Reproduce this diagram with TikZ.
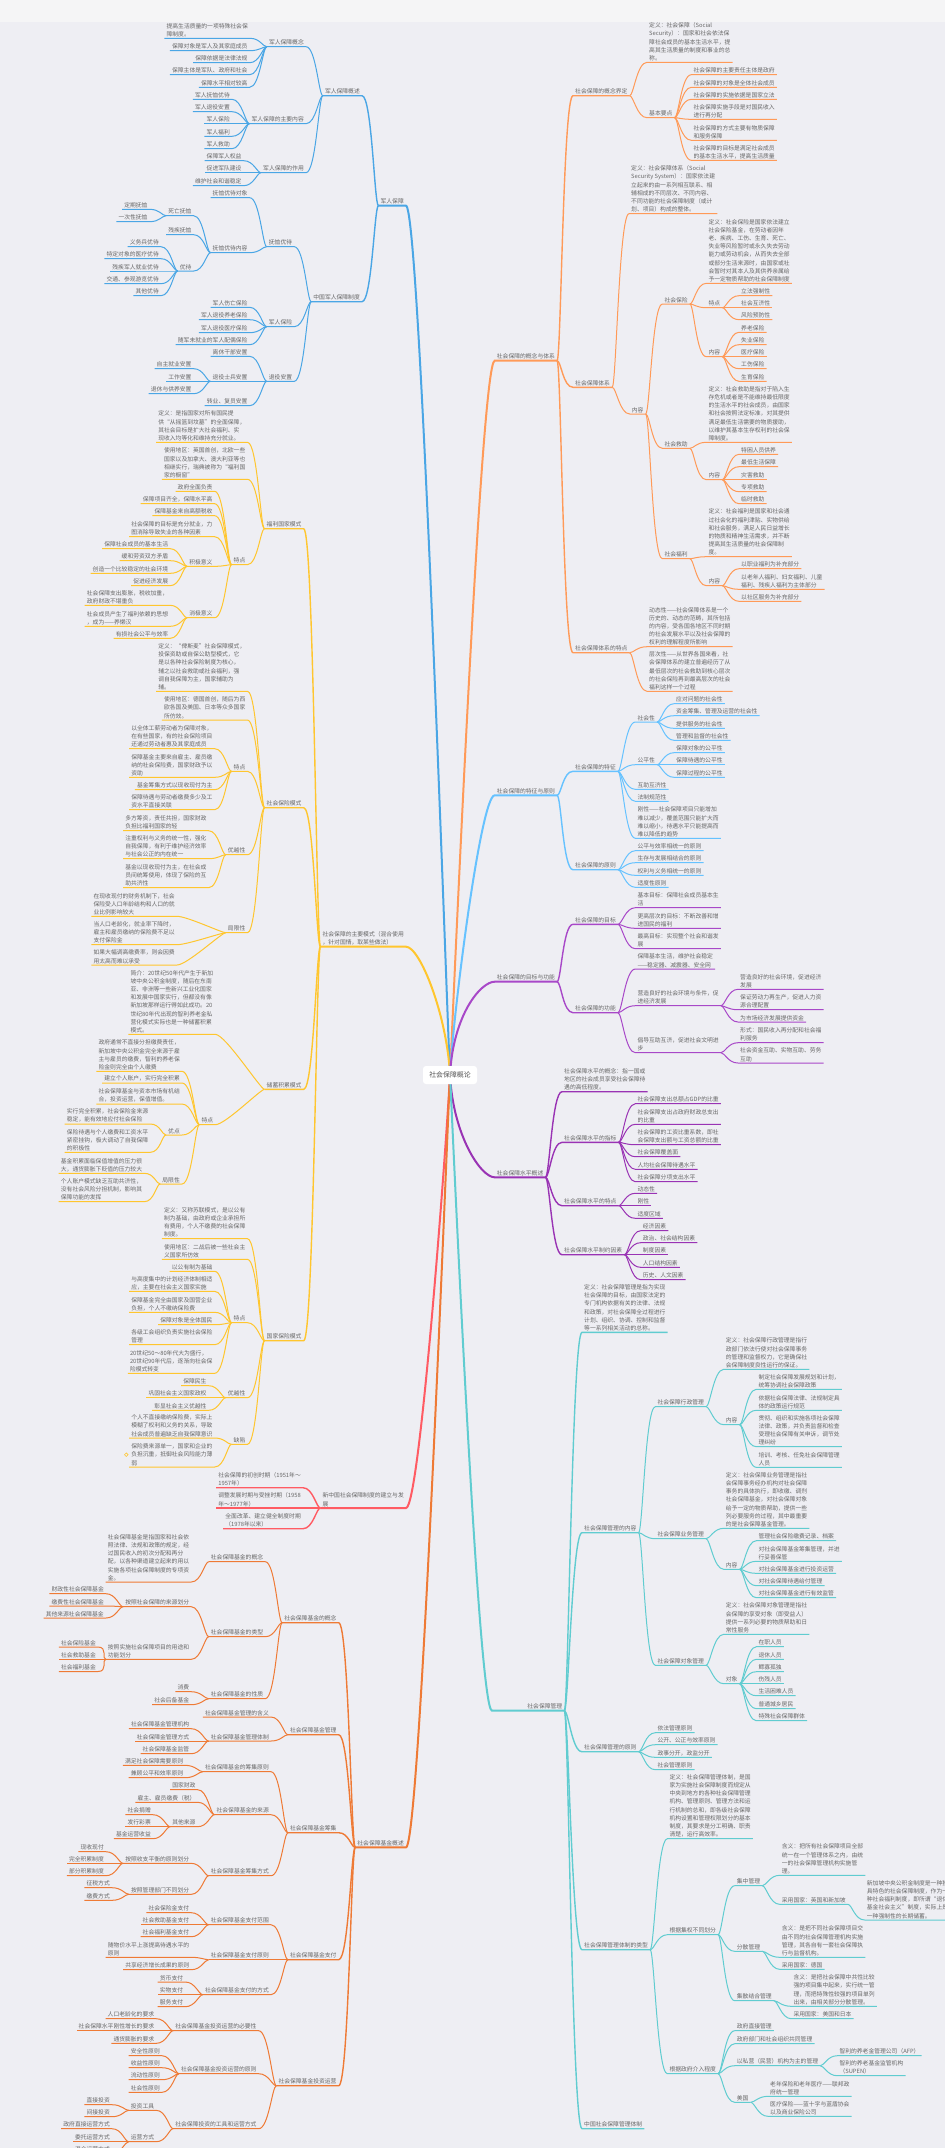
\documentclass[tikz,border=0pt]{standalone}
\usepackage{fontspec}
\setmainfont{Noto Sans CJK SC}
\usetikzlibrary{backgrounds}
\definecolor{canvas}{RGB}{238,238,243}
\definecolor{topbar}{RGB}{245,245,246}
\definecolor{txt}{RGB}{102,102,102}
\definecolor{jblue}{RGB}{74,166,229}
\definecolor{myellow}{RGB}{255,198,46}
\definecolor{hred}{RGB}{255,91,99}
\definecolor{forange}{RGB}{238,122,53}
\definecolor{corange}{RGB}{255,154,88}
\definecolor{tblue}{RGB}{102,194,255}
\definecolor{gpurple}{RGB}{168,72,200}
\definecolor{lpurple}{RGB}{153,51,180}
\definecolor{mteal}{RGB}{96,204,208}
\begin{document}
\begin{tikzpicture}[x=1pt,y=-1pt,font=\fontsize{5.8}{8.2}\selectfont,
  ln/.style={anchor=south east,inner xsep=2pt,inner ysep=1.2pt,align=left,text=txt},
  rn/.style={anchor=south west,inner xsep=2pt,inner ysep=1.2pt,align=left,text=txt},
  lto/.style={to path={.. controls +(-4,0) and +(10,0) .. (\tikztotarget.south east) -- (\tikztotarget.south west)}},
  rto/.style={to path={.. controls +(4,0) and +(-10,0) .. (\tikztotarget.south west) -- (\tikztotarget.south east)}},
  cl/.style={to path={.. controls +(-3,#1) and +(14,0) .. (\tikztotarget.south east) -- (\tikztotarget.south west)}},
  cr/.style={to path={.. controls +(3,#1) and +(-14,0) .. (\tikztotarget.south west) -- (\tikztotarget.south east)}},
  lv0/.style={line width=2pt},lv1/.style={line width=1.4pt},lv2/.style={line width=1pt}]
\useasboundingbox (0,0) rectangle (945,2148);
\begin{scope}[on background layer]
\fill[canvas] (0,0) rectangle (945,2148);
\end{scope}

\node[fill=white,rounded corners=3pt,minimum width=54pt,minimum height=18pt,text=txt!80!black,font=\fontsize{6.9}{8}\selectfont] (ctr) at (450,1075) {社会保障概论};

\node[ln] (a) at (406,205.7) {军人保障};
\node[ln] (a1) at (362,95.7) {军人保障概述};
\node[ln] (a2) at (362,301.7) {中国军人保障制度};
\node[ln] (a11) at (306,46.7) {军人保障概念};
\node[ln] (a12) at (306,123.7) {军人保障的主要内容};
\node[ln] (a13) at (306,172.7) {军人保障的作用};
\node[ln] (a111) at (250,38.3) {提高生活质量的一项特殊社会保\\障制度。};
\node[ln] (a112) at (249.7,50.7) {保障对象是军人及其家庭成员};
\node[ln] (a113) at (249.7,62.7) {保障依据是法律法规};
\node[ln] (a114) at (249.7,74.7) {保障主体是军队、政府和社会};
\node[ln] (a115) at (249.7,87.3) {保障水平相对较高};
\node[ln] (a121) at (232,99.3) {军人抚恤优待};
\node[ln] (a122) at (232,111.7) {军人退役安置};
\node[ln] (a123) at (232,123.7) {军人保险};
\node[ln] (a124) at (232,136.3) {军人福利};
\node[ln] (a125) at (232,148.7) {军人救助};
\node[ln] (a131) at (243.7,160.7) {保障军人权益};
\node[ln] (a132) at (243.7,172.7) {促进军队建设};
\node[ln] (a133) at (243.7,185.7) {维护社会和谐稳定};
\node[ln] (a21) at (294.3,246.7) {抚恤优待};
\node[ln] (a22) at (294.3,326.7) {军人保险};
\node[ln] (a23) at (294.3,381.3) {退役安置};
\node[ln] (a211) at (249.7,197.7) {抚恤优待对象};
\node[ln] (a212) at (249.7,252.7) {抚恤优待内容};
\node[ln] (a2121) at (193.7,215.7) {死亡抚恤};
\node[ln] (a2122) at (193.7,234.7) {残疾抚恤};
\node[ln] (a2123) at (193.7,271) {优待};
\node[ln] (a21211) at (149.7,209.3) {定期抚恤};
\node[ln] (a21212) at (149.7,221.7) {一次性抚恤};
\node[ln] (a21231) at (161,246.7) {义务兵优待};
\node[ln] (a21232) at (161,258.7) {特定对象的医疗优待};
\node[ln] (a21233) at (161,271) {残疾军人就业优待};
\node[ln] (a21234) at (161,283.7) {交通、参观游览优待};
\node[ln] (a21235) at (161,295.7) {其他优待};
\node[ln] (a221) at (249.7,307.3) {军人伤亡保险};
\node[ln] (a222) at (249.7,319.7) {军人退役养老保险};
\node[ln] (a223) at (249.7,332.7) {军人退役医疗保险};
\node[ln] (a224) at (249.7,344.7) {随军未就业的军人配偶保险};
\node[ln] (a231) at (249.7,356.3) {离休干部安置};
\node[ln] (a232) at (249.7,381.3) {退役士兵安置};
\node[ln] (a233) at (249.7,405.7) {转业、复员安置};
\node[ln] (a2321) at (193.7,368.7) {自主就业安置};
\node[ln] (a2322) at (193.7,381.3) {工作安置};
\node[ln] (a2323) at (193.7,393.7) {退休与供养安置};

\node[ln] (b) at (406,946.7) {社会保障的主要模式（混合使用\\，针对国情，取某些做法）};
\node[ln] (b1) at (303.7,528.7) {福利国家模式};
\node[ln] (b2) at (303.7,807.7) {社会保险模式};
\node[ln] (b3) at (303.7,1089.3) {储蓄积累模式};
\node[ln] (b4) at (303.7,1340.7) {国家保险模式};
\node[ln] (b11) at (247.5,442.3) {定义：是指国家对所有国民提\\供“从摇篮到坟墓”的全面保障，\\其社会目标是扩大社会福利、实\\现收入均等化和维持充分就业。};
\node[ln] (b12) at (247.5,479.3) {使用地区：英国首创，北欧一些\\国家以及加拿大、澳大利亚等也\\相继实行，瑞典被称为“福利国\\家的橱窗”};
\node[ln] (b13) at (247.5,564.7) {特点};
\node[ln] (b131) at (214.7,491.3) {政府全面负责};
\node[ln] (b132) at (214.7,503.7) {保障项目齐全，保障水平高};
\node[ln] (b133) at (214.7,515.7) {保障基金来自高额税收};
\node[ln] (b134) at (214.7,536.7) {社会保障的目标是充分就业，力\\图消除导致失业的各种因素};
\node[ln] (b135) at (214.7,566.3) {积极意义};
\node[ln] (b136) at (214.7,617.7) {消极意义};
\node[ln] (b1351) at (170.3,548.7) {保障社会成员的基本生活};
\node[ln] (b1352) at (170.3,560.7) {缓和劳资双方矛盾};
\node[ln] (b1353) at (170.3,573.3) {创造一个比较稳定的社会环境};
\node[ln] (b1354) at (170.3,585.7) {促进经济发展};
\node[ln] (b1361) at (170.3,605.3) {社会保障支出膨胀，税收加重，\\政府财政不堪重负};
\node[ln] (b1362) at (170.3,626.3) {社会成员产生了福利依赖的思想\\，成为——养懒汉};
\node[ln] (b1363) at (170.3,638.3) {有损社会公平与效率};
\node[ln] (b21) at (247.5,691.3) {定义：“俾斯麦”社会保障模式，\\投保资助或自保公助型模式，它\\是以各种社会保险制度为核心，\\辅之以社会救助或社会福利，强\\调自我保障为主，国家辅助为\\辅。};
\node[ln] (b22) at (247.5,720) {使用地区：德国首创，随后为西\\欧各国及美国、日本等众多国家\\所仿效。};
\node[ln] (b23) at (247.5,771.3) {特点};
\node[ln] (b231) at (214.7,748.7) {以全体工薪劳动者为保障对象，\\在有些国家，有的社会保险项目\\还通过劳动者惠及其家庭成员};
\node[ln] (b232) at (214.7,777.3) {保障基金主要来自雇主、雇员缴\\纳的社会保险费，国家财政予以\\资助};
\node[ln] (b233) at (214.7,789.7) {基金筹集方式以现收现付为主};
\node[ln] (b234) at (214.7,809.7) {保障待遇与劳动者缴费多少及工\\资水平直接关联};
\node[ln] (b24) at (247.5,854.7) {优越性};
\node[ln] (b241) at (208.7,830.7) {多方筹资，责任共担，国家财政\\负担比福利国家的轻};
\node[ln] (b242) at (208.7,858.7) {注重权利与义务的统一性，强化\\自我保障，有利于维护经济效率\\与社会公正的内在统一};
\node[ln] (b243) at (208.7,887.7) {基金以现收现付为主，在社会成\\员间统筹使用，体现了保险的互\\助共济性};
\node[ln] (b25) at (247.5,932.7) {局限性};
\node[ln] (b251) at (177,916.3) {在现收现付的财务机制下，社会\\保险受人口年龄结构和人口的就\\业比例影响较大};
\node[ln] (b252) at (177,944.7) {当人口老龄化，就业率下降时，\\雇主和雇员缴纳的保险费不足以\\支付保险金};
\node[ln] (b253) at (177,965) {如果大幅调高缴费率，则会因费\\用太高而难以承受};
\node[ln] (b31) at (215.3,1034.3) {简介：20世纪50年代产生于新加\\坡中央公积金制度，随后在东南\\亚、非洲等一些新兴工业化国家\\和发展中国家实行，但都没有像\\新加坡那样运行得如此成功。20\\世纪80年代出现的智利养老金私\\营化模式实际也是一种储蓄积累\\模式。};
\node[ln] (b32) at (215.3,1124.7) {特点};
\node[ln] (b321) at (182,1071.3) {政府通常不直接分担缴费责任，\\新加坡中央公积金完全来源于雇\\主与雇员的缴费，智利的养老保\\险金则完全由个人缴费};
\node[ln] (b322) at (182,1083) {建立个人账户，实行完全积累};
\node[ln] (b323) at (182,1104) {社会保障基金与资本市场有机结\\合，投资运营，保值增值。};
\node[ln] (b324) at (182,1135) {优点};
\node[ln] (b325) at (182,1184) {局限性};
\node[ln] (b3241) at (150.3,1124) {实行完全积累，社会保险金来源\\稳定，能有效地应付社会保险};
\node[ln] (b3242) at (150.3,1152.3) {保险待遇与个人缴费和工资水平\\紧密挂钩，极大调动了自我保障\\的积极性};
\node[ln] (b3251) at (144.3,1173.3) {基金积累面临保值增值的压力很\\大，通货膨胀下贬值的压力较大};
\node[ln] (b3252) at (144.3,1201.7) {个人账户模式缺乏互助共济性，\\没有社会风险分担机制，影响其\\保障功能的发挥};
\node[ln] (b41) at (247.5,1238.7) {定义：又称苏联模式，是以公有\\制为基础，由政府或企业承担所\\有费用，个人不缴费的社会保障\\制度。};
\node[ln] (b42) at (247.5,1259.3) {使用地区：二战后被一些社会主\\义国家所仿效};
\node[ln] (b43) at (247.5,1322.7) {特点};
\node[ln] (b431) at (214.7,1271.3) {以公有制为基础};
\node[ln] (b432) at (214.7,1291.3) {与高度集中的计划经济体制相适\\应，主要在社会主义国家实施};
\node[ln] (b433) at (214.7,1312.3) {保障基金完全由国家及国营企业\\负担，个人不缴纳保险费};
\node[ln] (b434) at (214.7,1324.7) {保障对象是全体国民};
\node[ln] (b435) at (214.7,1344.7) {各级工会组织负责实施社会保险\\管理};
\node[ln] (b436) at (214.7,1373.3) {20世纪50～80年代大为盛行，\\20世纪90年代后，逐渐向社会保\\险模式转变};
\node[ln] (b44) at (247.5,1397.7) {优越性};
\node[ln] (b441) at (208.7,1385.7) {保障民生};
\node[ln] (b442) at (208.7,1397.7) {巩固社会主义国家政权};
\node[ln] (b443) at (208.7,1410.3) {彰显社会主义优越性};
\node[ln] (b45) at (247.5,1444.3) {缺陷};
\node[ln] (b451) at (214.7,1438) {个人不直接缴纳保险费，实际上\\模糊了权利和义务的关系，导致\\社会成员普遍缺乏自我保障意识};
\node[ln] (b452) at (214.7,1467) {保险费来源单一，国家和企业的\\负担沉重，抵御社会风险能力薄\\弱};

\node[ln] (c) at (406,1508) {新中国社会保障制度的建立与发\\展};
\node[ln] (c1) at (303,1487.7) {社会保障的初创时期（1951年～\\1957年）};
\node[ln] (c2) at (303,1508) {调整发展时期与受挫时期（1958\\年～1977年）};
\node[ln] (c3) at (303,1528.7) {全面改革、建立健全制度时期\\（1978年以来）};

\node[ln] (d) at (406,1847.3) {社会保障基金概述};
\node[ln] (d1) at (338.7,1622.7) {社会保障基金的概念};
\node[ln] (d2) at (338.7,1734.7) {社会保障基金管理};
\node[ln] (d3) at (338.7,1832.7) {社会保障基金筹集};
\node[ln] (d4) at (338.7,1959.7) {社会保障基金支付};
\node[ln] (d5) at (338.7,2085.7) {社会保障基金投资运营};
\node[ln] (d11) at (265.3,1561.7) {社会保障基金的概念};
\node[ln] (d12) at (265.3,1636.7) {社会保障基金的类型};
\node[ln] (d13) at (265.3,1698.7) {社会保障基金的性质};
\node[ln] (d111) at (191.3,1582) {社会保障基金是指国家和社会依\\照法律、法规和政策的规定，经\\过国民收入的初次分配和再分\\配，以各种渠道建立起来的用以\\实施各项社会保障制度的专项资\\金。};
\node[ln] (d121) at (191.3,1606.7) {按照社会保障的来源划分};
\node[ln] (d122) at (191.3,1659.3) {按照实施社会保障项目的用途和\\功能划分};
\node[ln] (d1211) at (106,1593.7) {财政性社会保障基金};
\node[ln] (d1212) at (106,1606) {缴费性社会保障基金};
\node[ln] (d1213) at (106,1618) {其他来源社会保障基金};
\node[ln] (d1221) at (98,1647) {社会保险基金};
\node[ln] (d1222) at (98,1659.3) {社会救助基金};
\node[ln] (d1223) at (98,1671.5) {社会福利基金};
\node[ln] (d131) at (191.3,1691.7) {消费};
\node[ln] (d132) at (191.3,1704.7) {社会后备基金};
\node[ln] (d21) at (271,1717) {社会保障基金管理的含义};
\node[ln] (d22) at (271,1741) {社会保障基金管理体制};
\node[ln] (d221) at (191.3,1728.7) {社会保障基金管理机构};
\node[ln] (d222) at (191.3,1741) {社会保障金管理方式};
\node[ln] (d223) at (191.3,1753.7) {社会保障基金监管};
\node[ln] (d31) at (271,1771.7) {社会保障基金的筹集原则};
\node[ln] (d32) at (271,1814.7) {社会保障基金的来源};
\node[ln] (d33) at (271,1875.7) {社会保障基金筹集方式};
\node[ln] (d311) at (185.3,1765.3) {满足社会保障需要原则};
\node[ln] (d312) at (185.3,1777.7) {兼顾公平和效率原则};
\node[ln] (d321) at (197.7,1789.7) {国家财政};
\node[ln] (d322) at (197.7,1802.3) {雇主、雇员缴费（税）};
\node[ln] (d323) at (197.7,1826.7) {其他来源};
\node[ln] (d3231) at (153,1814.7) {社会捐赠};
\node[ln] (d3232) at (153,1826.7) {发行彩票};
\node[ln] (d3233) at (153,1838.7) {基金运营收益};
\node[ln] (d331) at (191.3,1863.3) {按照收支平衡的原则划分};
\node[ln] (d332) at (191.3,1894.3) {按照管理部门不同划分};
\node[ln] (d3311) at (106,1851.7) {现收现付};
\node[ln] (d3312) at (106,1863.3) {完全积累制度};
\node[ln] (d3313) at (106,1875.7) {部分积累制度};
\node[ln] (d3321) at (112,1887.7) {征税方式};
\node[ln] (d3322) at (112,1900.3) {缴费方式};
\node[ln] (d41) at (271,1924.7) {社会保障基金支付范围};
\node[ln] (d42) at (271,1959.7) {社会保障基金支付原则};
\node[ln] (d43) at (271,1994.7) {社会保障基金支付的方式};
\node[ln] (d411) at (191.3,1912.7) {社会保险金支付};
\node[ln] (d412) at (191.3,1924.7) {社会救助基金支付};
\node[ln] (d413) at (191.3,1936.7) {社会福利基金支付};
\node[ln] (d421) at (191.3,1957.3) {随物价水平上涨提高待遇水平的\\原则};
\node[ln] (d422) at (191.3,1969.7) {共享经济增长成果的原则};
\node[ln] (d431) at (185.3,1982) {货币支付};
\node[ln] (d432) at (185.3,1994.7) {实物支付};
\node[ln] (d433) at (185.3,2006.7) {服务支付};
\node[ln] (d51) at (258.7,2030.7) {社会保障基金投资运营的必要性};
\node[ln] (d52) at (258.7,2073.7) {社会保障基金投资运营的原则};
\node[ln] (d53) at (258.7,2128.7) {社会保障投资的工具和运营方式};
\node[ln] (d511) at (156.3,2018.7) {人口老龄化的要求};
\node[ln] (d512) at (156.3,2030.7) {社会保障水平刚性增长的要求};
\node[ln] (d513) at (156.3,2043.3) {通货膨胀的要求};
\node[ln] (d521) at (162,2055.7) {安全性原则};
\node[ln] (d522) at (162,2067.7) {收益性原则};
\node[ln] (d523) at (162,2079.7) {流动性原则};
\node[ln] (d524) at (162,2092.3) {社会性原则};
\node[ln] (d531) at (156.3,2110.3) {投资工具};
\node[ln] (d532) at (156.3,2141.7) {运营方式};
\node[ln] (d5311) at (112,2104.7) {直接投资};
\node[ln] (d5312) at (112,2116.7) {间接投资};
\node[ln] (d5321) at (112,2128.7) {政府直接运营方式};
\node[ln] (d5322) at (112,2141.7) {委托运营方式};
\node[ln] (d5323) at (112,2153) {混合运营方式};

\node[rn] (e) at (494.7,360.7) {社会保障的概念与体系};
\node[rn] (e1) at (573,95.7) {社会保障的概念界定};
\node[rn] (e2) at (573,387.3) {社会保障体系};
\node[rn] (e3) at (573,652.7) {社会保障体系的特点};
\node[rn] (e11) at (647,62.3) {定义：社会保障（Social\\Security）：国家和社会依法保\\障社会成员的基本生活水平，提\\高其生活质量的制度和事业的总\\称。};
\node[rn] (e12) at (647,117.7) {基本要点};
\node[rn] (e121) at (691.3,74.7) {社会保障的主要责任主体是政府};
\node[rn] (e122) at (691.3,87.3) {社会保障的对象是全体社会成员};
\node[rn] (e123) at (691.3,99.3) {社会保障的实施依据是国家立法};
\node[rn] (e124) at (691.3,119.3) {社会保障实施手段是对国民收入\\进行再分配};
\node[rn] (e125) at (691.3,140.3) {社会保障的方式主要有物质保障\\和服务保障};
\node[rn] (e126) at (691.3,160.3) {社会保障的目标是满足社会成员\\的基本生活水平，提高生活质量};
\node[rn] (e21) at (629,213.7) {定义：社会保障体系（Social\\Security System）：国家依法建\\立起来的由一系列相互联系、相\\辅相成的不同层次、不同内容、\\不同功能的社会保障制度（或计\\划、项目）构成的整体。};
\node[rn] (e22) at (629.7,414) {内容};
\node[rn] (e221) at (662.3,304) {社会保险};
\node[rn] (e222) at (662.3,448.3) {社会救助};
\node[rn] (e223) at (662.3,558.7) {社会福利};
\node[rn] (e2211) at (706.3,283.3) {定义：社会保险是国家依法建立\\社会保险基金，在劳动者因年\\老、疾病、工伤、生育、死亡、\\失业等风险暂时或永久失去劳动\\能力或劳动机会，从而失去全部\\或部分生活来源时，由国家或社\\会暂时对其本人及其供养亲属给\\予一定物质帮助的社会保障制度};
\node[rn] (e2212) at (706.3,307.7) {特点};
\node[rn] (e2213) at (706.3,356.7) {内容};
\node[rn] (e22121) at (739,295.7) {立法强制性};
\node[rn] (e22122) at (739,307.7) {社会互济性};
\node[rn] (e22123) at (739,319.7) {风险预防性};
\node[rn] (e22131) at (739,332.3) {养老保险};
\node[rn] (e22132) at (739,344.7) {失业保险};
\node[rn] (e22133) at (739,356.7) {医疗保险};
\node[rn] (e22134) at (739,368.7) {工伤保险};
\node[rn] (e22135) at (739,381.3) {生育保险};
\node[rn] (e2221) at (706.3,442.3) {定义：社会救助是指对于陷入生\\存危机或者是不能维持最低限度\\的生活水平的社会成员，由国家\\和社会按照法定标准，对其提供\\满足最低生活需要的物质援助，\\以维护其基本生存权利的社会保\\障制度。};
\node[rn] (e2222) at (706.3,479.7) {内容};
\node[rn] (e22221) at (739,454.3) {特困人员供养};
\node[rn] (e22222) at (739,466.7) {最低生活保障};
\node[rn] (e22223) at (739,479.7) {灾害救助};
\node[rn] (e22224) at (739,491.7) {专项救助};
\node[rn] (e22225) at (739,503.7) {临时救助};
\node[rn] (e2231) at (706.3,556.7) {定义：社会福利是国家和社会通\\过社会化的福利津贴、实物供给\\和社会服务，满足人民日益增长\\的物质和精神生活需求，并不断\\提高其生活质量的社会保障制\\度。};
\node[rn] (e2232) at (706.3,585.7) {内容};
\node[rn] (e22321) at (739,568.7) {以职业福利为补充部分};
\node[rn] (e22322) at (739,589.3) {以老年人福利、妇女福利、儿童\\福利、残疾人福利为主体部分};
\node[rn] (e22323) at (739,601.3) {以社区服务为补充部分};
\node[rn] (e31) at (647,646.7) {动态性——社会保障体系是一个\\历史的、动态的范畴，其所包括\\的内容，受各国各地区不同时期\\的社会发展水平以及社会保障的\\权利的理解程度所影响};
\node[rn] (e32) at (647,691.3) {层次性——从世界各国来看，社\\会保障体系的建立普遍经历了从\\最低层次的社会救助到核心层次\\的社会保险再到最高层次的社会\\福利这样一个过程};

\node[rn] (f) at (494.7,795.3) {社会保障的特征与原则};
\node[rn] (f1) at (573,771.3) {社会保障的特征};
\node[rn] (f2) at (573,869.7) {社会保障的原则};
\node[rn] (f11) at (635.3,722) {社会性};
\node[rn] (f12) at (635.3,764.7) {公平性};
\node[rn] (f13) at (635.3,789.3) {互助互济性};
\node[rn] (f14) at (635.3,801.3) {法制规范性};
\node[rn] (f15) at (635.3,838.3) {刚性——社会保障项目只能增加\\难以减少，覆盖范围只能扩大而\\难以缩小，待遇水平只能提高而\\难以降低的趋势};
\node[rn] (f111) at (674,703.7) {应对问题的社会性};
\node[rn] (f112) at (674,715.7) {资金筹集、管理及运营的社会性};
\node[rn] (f113) at (674,728.3) {提供服务的社会性};
\node[rn] (f114) at (674,740.3) {管理和监督的社会性};
\node[rn] (f121) at (674,752.7) {保障对象的公平性};
\node[rn] (f122) at (674,764.7) {保障待遇的公平性};
\node[rn] (f123) at (674,777.3) {保障过程的公平性};
\node[rn] (f21) at (635.3,850.7) {公平与效率相统一的原则};
\node[rn] (f22) at (635.3,862.7) {生存与发展相结合的原则};
\node[rn] (f23) at (635.3,875.3) {权利与义务相统一的原则};
\node[rn] (f24) at (635.3,887.3) {适度性原则};

\node[rn] (g) at (494.7,981.7) {社会保障的目标与功能};
\node[rn] (g1) at (573,924.3) {社会保障的目标};
\node[rn] (g2) at (573,1012.7) {社会保障的功能};
\node[rn] (g11) at (635.3,907.7) {基本目标：保障社会成员基本生\\活};
\node[rn] (g12) at (635.3,928.3) {更高层次的目标：不断改善和增\\进国民的福利};
\node[rn] (g13) at (635.3,948.7) {最高目标：实现整个社会和谐发\\展};
\node[rn] (g21) at (635.3,969) {保障基本生活，维护社会稳定\\——稳定器、减震器、安全网};
\node[rn] (g22) at (635.3,1005.7) {营造良好的社会环境与条件，促\\进经济发展};
\node[rn] (g23) at (635.3,1052.7) {倡导互助互济，促进社会文明进\\步};
\node[rn] (g221) at (738,989.3) {营造良好的社会环境，促进经济\\发展};
\node[rn] (g222) at (738,1009.7) {保证劳动力再生产，促进人力资\\源合理配置};
\node[rn] (g223) at (738,1022) {为市场经济发展提供资金};
\node[rn] (g231) at (738,1042.7) {形式：国民收入再分配和社会福\\利服务};
\node[rn] (g232) at (738,1063) {社会资金互助、实物互助、劳务\\互助};

\node[rn] (h) at (494.7,1177.3) {社会保障水平概述};
\node[rn] (h1) at (562,1091.7) {社会保障水平的概念：指一国或\\地区的社会成员享受社会保障待\\遇的高低程度。};
\node[rn] (h2) at (562,1142.3) {社会保障水平的指标};
\node[rn] (h3) at (562,1205.7) {社会保障水平的特点};
\node[rn] (h4) at (562,1254.7) {社会保障水平制约因素};
\node[rn] (h21) at (635.3,1103.7) {社会保障支出总额占GDP的比重};
\node[rn] (h22) at (635.3,1124.3) {社会保障支出占政府财政总支出\\的比重};
\node[rn] (h23) at (635.3,1144.7) {社会保障的工资比重系数，即社\\会保障支出额与工资总额的比重};
\node[rn] (h24) at (635.3,1156.7) {社会保障覆盖面};
\node[rn] (h25) at (635.3,1169.3) {人均社会保障待遇水平};
\node[rn] (h26) at (635.3,1181.7) {社会保障分项支出水平};
\node[rn] (h31) at (635.3,1193.3) {动态性};
\node[rn] (h32) at (635.3,1205.7) {刚性};
\node[rn] (h33) at (635.3,1218.3) {适度区域};
\node[rn] (h41) at (640.7,1230.7) {经济因素};
\node[rn] (h42) at (640.7,1242.7) {政治、社会结构因素};
\node[rn] (h43) at (640.7,1254.7) {制度因素};
\node[rn] (h44) at (640.7,1267.3) {人口结构因素};
\node[rn] (h45) at (640.7,1279.7) {历史、人文因素};

\node[rn,text width=68pt,align=right] (k) at (492,1710.7) {社会保障管理};
\node[rn] (k1) at (582,1332.3) {定义：社会保障管理是指为实现\\社会保障的目标，由国家法定的\\专门机构依据有关的法律、法规\\和政策，对社会保障全过程进行\\计划、组织、协调、控制和监督\\等一系列相关活动的总称。};
\node[rn] (k2) at (582,1532.7) {社会保障管理的内容};
\node[rn] (k3) at (582,1751.7) {社会保障管理的原则};
\node[rn] (k4) at (582,1949.7) {社会保障管理体制的类型};
\node[rn] (k5) at (582,2128.7) {中国社会保障管理体制};
\node[rn] (k21) at (655.3,1406.7) {社会保障行政管理};
\node[rn] (k22) at (655.3,1538.7) {社会保障业务管理};
\node[rn] (k23) at (655.3,1665.3) {社会保障对象管理};
\node[rn] (k211) at (723.7,1369.3) {定义：社会保障行政管理是指行\\政部门依法行使对社会保障事务\\的管理和监督权力，它是确保社\\会保障制度良性运行的保证。};
\node[rn] (k212) at (723.7,1424.7) {内容};
\node[rn] (k2121) at (756.3,1389.3) {制定社会保障发展规划和计划，\\统筹协调社会保障政策};
\node[rn] (k2122) at (756.3,1410.3) {依据社会保障法律、法规制定具\\体的政策运行规范};
\node[rn] (k2123) at (756.3,1446.7) {贯彻、组织和实施各项社会保障\\法律、政策，并负责监督和检查\\受理社会保障有关申诉，调节处\\理纠纷};
\node[rn] (k2124) at (756.3,1467.3) {培训、考核、任免社会保障管理\\人员};
\node[rn] (k221) at (723.7,1528.3) {定义：社会保障业务管理是指社\\会保障事务经办机构对社会保障\\事务的具体执行，即收缴、调剂\\社会保障基金，对社会保障对象\\给予一定的物质帮助，提供一些\\列必要服务的过程，其中最重要\\的是社会保障基金管理。};
\node[rn] (k222) at (723.7,1569.3) {内容};
\node[rn] (k2221) at (756.3,1540.7) {管理社会保险缴费记录、档案};
\node[rn] (k2222) at (756.3,1561.3) {对社会保障基金筹集管理，并进\\行妥善保管};
\node[rn] (k2223) at (756.3,1573.3) {对社会保障基金进行投资运营};
\node[rn] (k2224) at (756.3,1585.7) {对社会保障待遇给付管理};
\node[rn] (k2225) at (756.3,1597.7) {对社会保障基金进行有效监管};
\node[rn] (k231) at (723.7,1634.3) {定义：社会保障对象管理是指社\\会保障的享受对象（即受益人）\\提供一系列必要的物质帮助和日\\常性服务};
\node[rn] (k232) at (723.7,1683.7) {对象};
\node[rn] (k2321) at (756.3,1646.7) {在职人员};
\node[rn] (k2322) at (756.3,1659.3) {退休人员};
\node[rn] (k2323) at (756.3,1671.7) {鳏寡孤独};
\node[rn] (k2324) at (756.3,1683.7) {伤残人员};
\node[rn] (k2325) at (756.3,1695.7) {生活困难人员};
\node[rn] (k2326) at (756.3,1708.7) {普通城乡居民};
\node[rn] (k2327) at (756.3,1720.7) {特殊社会保障群体};
\node[rn] (k31) at (655.3,1732.7) {依法管理原则};
\node[rn] (k32) at (655.3,1744.7) {公开、公正与效率原则};
\node[rn] (k33) at (655.3,1757.3) {政事分开，政监分开};
\node[rn] (k34) at (655.3,1769.7) {社会管理原则};
\node[rn] (k41) at (667.3,1838.7) {定义：社会保障管理体制，是国\\家为实施社会保障制度而规定从\\中央到地方的各种社会保障管理\\机构、管理原则、管理方法和运\\行机制的总和，即各级社会保障\\机构设置和管理权限划分的基本\\制度，其要求是分工明确、职责\\清楚，运行高效率。};
\node[rn] (k42) at (667.3,1934.7) {根据集权不同划分};
\node[rn] (k43) at (667.3,2073.7) {根据政府介入程度};
\node[rn] (k421) at (734.7,1885.7) {集中管理};
\node[rn] (k422) at (734.7,1951.3) {分散管理};
\node[rn] (k423) at (734.7,2000.7) {集散结合管理};
\node[rn] (k4211) at (779.7,1875.3) {含义：把所有社会保障项目全部\\统一在一个管理体系之内，由统\\一的社会保障管理机构实施管\\理。};
\node[rn] (k4212) at (779.7,1904.3) {采用国家：英国和新加坡};
\node[rn] (k42121) at (864.7,1920) {新加坡中央公积金制度是一种独\\具特色的社会保障制度，作为一\\种社会福利制度，即所谓“退休\\基金社会主义”制度，实际上是\\一种强制性的长期储蓄。};
\node[rn] (k4221) at (779.7,1957.3) {含义：是把不同社会保障项目交\\由不同的社会保障管理机构实施\\管理，其各自有一套社会保障执\\行与监督机构。};
\node[rn] (k4222) at (779.7,1969.3) {采用国家：德国};
\node[rn] (k4231) at (791.3,2006.3) {含义：是把社会保障中共性比较\\强的项目集中起来，实行统一管\\理，而把特殊性较强的项目单列\\出来，由相关部分分散管理。};
\node[rn] (k4232) at (791.3,2018.7) {采用国家：美国和日本};
\node[rn] (k431) at (734.7,2030.7) {政府直接管理};
\node[rn] (k432) at (734.7,2043.7) {政府部门和社会组织共同管理};
\node[rn] (k433) at (734.7,2065.7) {以私营（民营）机构为主的管理};
\node[rn] (k434) at (734.7,2102.3) {美国};
\node[rn] (k4331) at (837.3,2055.7) {智利的养老金管理公司（AFP）};
\node[rn] (k4332) at (837.3,2075.7) {智利的养老基金监管机构\\（SUPEN）};
\node[rn] (k4341) at (768,2096.3) {老年保险和老年医疗——联邦政\\府统一管理};
\node[rn] (k4342) at (768,2116.3) {医疗保险——蓝十字与蓝盾协会\\以及商业保险公司};

\begin{scope}[on background layer]
\draw[jblue,lv0] (ctr.center) edge[cl=-60] (a);
\draw[myellow,lv0] (ctr.center) edge[cl=-60] (b);
\draw[hred,lv0] (ctr.center) edge[cl=60] (c);
\draw[forange,lv0] (ctr.center) edge[cl=60] (d);
\draw[corange,lv0] (ctr.center) edge[cr=-60] (e);
\draw[tblue,lv0] (ctr.center) edge[cr=-60] (f);
\draw[gpurple,lv0] (ctr.center) edge[cr=-60] (g);
\draw[lpurple,lv0] (ctr.center) edge[cr=60] (h);
\draw[mteal,lv0] (ctr.center) edge[cr=60] (k);

\draw[jblue,lv1] (a.south west) edge[lto] (a1) edge[lto] (a2);
\draw[jblue,lv2] (a1.south west) edge[lto] (a11) edge[lto] (a12) edge[lto] (a13);
\draw[jblue,lv2] (a11.south west) edge[lto] (a111) edge[lto] (a112) edge[lto] (a113) edge[lto] (a114) edge[lto] (a115);
\draw[jblue,lv2] (a12.south west) edge[lto] (a121) edge[lto] (a122) edge[lto] (a123) edge[lto] (a124) edge[lto] (a125);
\draw[jblue,lv2] (a13.south west) edge[lto] (a131) edge[lto] (a132) edge[lto] (a133);
\draw[jblue,lv2] (a2.south west) edge[lto] (a21) edge[lto] (a22) edge[lto] (a23);
\draw[jblue,lv2] (a21.south west) edge[lto] (a211) edge[lto] (a212);
\draw[jblue,lv2] (a212.south west) edge[lto] (a2121) edge[lto] (a2122) edge[lto] (a2123);
\draw[jblue,lv2] (a2121.south west) edge[lto] (a21211) edge[lto] (a21212);
\draw[jblue,lv2] (a2123.south west) edge[lto] (a21231) edge[lto] (a21232) edge[lto] (a21233) edge[lto] (a21234) edge[lto] (a21235);
\draw[jblue,lv2] (a22.south west) edge[lto] (a221) edge[lto] (a222) edge[lto] (a223) edge[lto] (a224);
\draw[jblue,lv2] (a23.south west) edge[lto] (a231) edge[lto] (a232) edge[lto] (a233);
\draw[jblue,lv2] (a232.south west) edge[lto] (a2321) edge[lto] (a2322) edge[lto] (a2323);

\draw[myellow,lv1] (b.south west) edge[lto] (b1) edge[lto] (b2) edge[lto] (b3) edge[lto] (b4);
\draw[myellow,lv2] (b1.south west) edge[lto] (b11) edge[lto] (b12) edge[lto] (b13);
\draw[myellow,lv2] (b13.south west) edge[lto] (b131) edge[lto] (b132) edge[lto] (b133) edge[lto] (b134) edge[lto] (b135) edge[lto] (b136);
\draw[myellow,lv2] (b135.south west) edge[lto] (b1351) edge[lto] (b1352) edge[lto] (b1353) edge[lto] (b1354);
\draw[myellow,lv2] (b136.south west) edge[lto] (b1361) edge[lto] (b1362) edge[lto] (b1363);
\draw[myellow,lv2] (b2.south west) edge[lto] (b21) edge[lto] (b22) edge[lto] (b23) edge[lto] (b24) edge[lto] (b25);
\draw[myellow,lv2] (b23.south west) edge[lto] (b231) edge[lto] (b232) edge[lto] (b233) edge[lto] (b234);
\draw[myellow,lv2] (b24.south west) edge[lto] (b241) edge[lto] (b242) edge[lto] (b243);
\draw[myellow,lv2] (b25.south west) edge[lto] (b251) edge[lto] (b252) edge[lto] (b253);
\draw[myellow,lv2] (b3.south west) edge[lto] (b31) edge[lto] (b32);
\draw[myellow,lv2] (b32.south west) edge[lto] (b321) edge[lto] (b322) edge[lto] (b323) edge[lto] (b324) edge[lto] (b325);
\draw[myellow,lv2] (b324.south west) edge[lto] (b3241) edge[lto] (b3242);
\draw[myellow,lv2] (b325.south west) edge[lto] (b3251) edge[lto] (b3252);
\draw[myellow,lv2] (b4.south west) edge[lto] (b41) edge[lto] (b42) edge[lto] (b43) edge[lto] (b44) edge[lto] (b45);
\draw[myellow,lv2] (b43.south west) edge[lto] (b431) edge[lto] (b432) edge[lto] (b433) edge[lto] (b434) edge[lto] (b435) edge[lto] (b436);
\draw[myellow,lv2] (b44.south west) edge[lto] (b441) edge[lto] (b442) edge[lto] (b443);
\draw[myellow,lv2] (b45.south west) edge[lto] (b451) edge[lto] (b452);

\draw[hred,lv1] (c.south west) edge[lto] (c1) edge[lto] (c2) edge[lto] (c3);

\draw[forange,lv1] (d.south west) edge[lto] (d1) edge[lto] (d2) edge[lto] (d3) edge[lto] (d4) edge[lto] (d5);
\draw[forange,lv2] (d1.south west) edge[lto] (d11) edge[lto] (d12) edge[lto] (d13);
\draw[forange,lv2] (d11.south west) edge[lto] (d111);
\draw[forange,lv2] (d12.south west) edge[lto] (d121) edge[lto] (d122);
\draw[forange,lv2] (d121.south west) edge[lto] (d1211) edge[lto] (d1212) edge[lto] (d1213);
\draw[forange,lv2] (d122.south west) edge[lto] (d1221) edge[lto] (d1222) edge[lto] (d1223);
\draw[forange,lv2] (d13.south west) edge[lto] (d131) edge[lto] (d132);
\draw[forange,lv2] (d2.south west) edge[lto] (d21) edge[lto] (d22);
\draw[forange,lv2] (d22.south west) edge[lto] (d221) edge[lto] (d222) edge[lto] (d223);
\draw[forange,lv2] (d3.south west) edge[lto] (d31) edge[lto] (d32) edge[lto] (d33);
\draw[forange,lv2] (d31.south west) edge[lto] (d311) edge[lto] (d312);
\draw[forange,lv2] (d32.south west) edge[lto] (d321) edge[lto] (d322) edge[lto] (d323);
\draw[forange,lv2] (d323.south west) edge[lto] (d3231) edge[lto] (d3232) edge[lto] (d3233);
\draw[forange,lv2] (d33.south west) edge[lto] (d331) edge[lto] (d332);
\draw[forange,lv2] (d331.south west) edge[lto] (d3311) edge[lto] (d3312) edge[lto] (d3313);
\draw[forange,lv2] (d332.south west) edge[lto] (d3321) edge[lto] (d3322);
\draw[forange,lv2] (d4.south west) edge[lto] (d41) edge[lto] (d42) edge[lto] (d43);
\draw[forange,lv2] (d41.south west) edge[lto] (d411) edge[lto] (d412) edge[lto] (d413);
\draw[forange,lv2] (d42.south west) edge[lto] (d421) edge[lto] (d422);
\draw[forange,lv2] (d43.south west) edge[lto] (d431) edge[lto] (d432) edge[lto] (d433);
\draw[forange,lv2] (d5.south west) edge[lto] (d51) edge[lto] (d52) edge[lto] (d53);
\draw[forange,lv2] (d51.south west) edge[lto] (d511) edge[lto] (d512) edge[lto] (d513);
\draw[forange,lv2] (d52.south west) edge[lto] (d521) edge[lto] (d522) edge[lto] (d523) edge[lto] (d524);
\draw[forange,lv2] (d53.south west) edge[lto] (d531) edge[lto] (d532);
\draw[forange,lv2] (d531.south west) edge[lto] (d5311) edge[lto] (d5312);
\draw[forange,lv2] (d532.south west) edge[lto] (d5321) edge[lto] (d5322) edge[lto] (d5323);

\draw[corange,lv1] (e.south east) edge[rto] (e1) edge[rto] (e2) edge[rto] (e3);
\draw[corange,lv2] (e1.south east) edge[rto] (e11) edge[rto] (e12);
\draw[corange,lv2] (e12.south east) edge[rto] (e121) edge[rto] (e122) edge[rto] (e123) edge[rto] (e124) edge[rto] (e125) edge[rto] (e126);
\draw[corange,lv2] (e2.south east) edge[rto] (e21) edge[rto] (e22);
\draw[corange,lv2] (e22.south east) edge[rto] (e221) edge[rto] (e222) edge[rto] (e223);
\draw[corange,lv2] (e221.south east) edge[rto] (e2211) edge[rto] (e2212) edge[rto] (e2213);
\draw[corange,lv2] (e2212.south east) edge[rto] (e22121) edge[rto] (e22122) edge[rto] (e22123);
\draw[corange,lv2] (e2213.south east) edge[rto] (e22131) edge[rto] (e22132) edge[rto] (e22133) edge[rto] (e22134) edge[rto] (e22135);
\draw[corange,lv2] (e222.south east) edge[rto] (e2221) edge[rto] (e2222);
\draw[corange,lv2] (e2222.south east) edge[rto] (e22221) edge[rto] (e22222) edge[rto] (e22223) edge[rto] (e22224) edge[rto] (e22225);
\draw[corange,lv2] (e223.south east) edge[rto] (e2231) edge[rto] (e2232);
\draw[corange,lv2] (e2232.south east) edge[rto] (e22321) edge[rto] (e22322) edge[rto] (e22323);
\draw[corange,lv2] (e3.south east) edge[rto] (e31) edge[rto] (e32);

\draw[tblue,lv1] (f.south east) edge[rto] (f1) edge[rto] (f2);
\draw[tblue,lv2] (f1.south east) edge[rto] (f11) edge[rto] (f12) edge[rto] (f13) edge[rto] (f14) edge[rto] (f15);
\draw[tblue,lv2] (f11.south east) edge[rto] (f111) edge[rto] (f112) edge[rto] (f113) edge[rto] (f114);
\draw[tblue,lv2] (f12.south east) edge[rto] (f121) edge[rto] (f122) edge[rto] (f123);
\draw[tblue,lv2] (f2.south east) edge[rto] (f21) edge[rto] (f22) edge[rto] (f23) edge[rto] (f24);

\draw[gpurple,lv1] (g.south east) edge[rto] (g1) edge[rto] (g2);
\draw[gpurple,lv2] (g1.south east) edge[rto] (g11) edge[rto] (g12) edge[rto] (g13);
\draw[gpurple,lv2] (g2.south east) edge[rto] (g21) edge[rto] (g22) edge[rto] (g23);
\draw[gpurple,lv2] (g22.south east) edge[rto] (g221) edge[rto] (g222) edge[rto] (g223);
\draw[gpurple,lv2] (g23.south east) edge[rto] (g231) edge[rto] (g232);

\draw[lpurple,lv1] (h.south east) edge[rto] (h1) edge[rto] (h2) edge[rto] (h3) edge[rto] (h4);
\draw[lpurple,lv2] (h2.south east) edge[rto] (h21) edge[rto] (h22) edge[rto] (h23) edge[rto] (h24) edge[rto] (h25) edge[rto] (h26);
\draw[lpurple,lv2] (h3.south east) edge[rto] (h31) edge[rto] (h32) edge[rto] (h33);
\draw[lpurple,lv2] (h4.south east) edge[rto] (h41) edge[rto] (h42) edge[rto] (h43) edge[rto] (h44) edge[rto] (h45);

\draw[mteal,lv1] (k.south east) edge[rto] (k1) edge[rto] (k2) edge[rto] (k3) edge[rto] (k4) edge[rto] (k5);
\draw[mteal,lv2] (k2.south east) edge[rto] (k21) edge[rto] (k22) edge[rto] (k23);
\draw[mteal,lv2] (k21.south east) edge[rto] (k211) edge[rto] (k212);
\draw[mteal,lv2] (k212.south east) edge[rto] (k2121) edge[rto] (k2122) edge[rto] (k2123) edge[rto] (k2124);
\draw[mteal,lv2] (k22.south east) edge[rto] (k221) edge[rto] (k222);
\draw[mteal,lv2] (k222.south east) edge[rto] (k2221) edge[rto] (k2222) edge[rto] (k2223) edge[rto] (k2224) edge[rto] (k2225);
\draw[mteal,lv2] (k23.south east) edge[rto] (k231) edge[rto] (k232);
\draw[mteal,lv2] (k232.south east) edge[rto] (k2321) edge[rto] (k2322) edge[rto] (k2323) edge[rto] (k2324) edge[rto] (k2325) edge[rto] (k2326) edge[rto] (k2327);
\draw[mteal,lv2] (k3.south east) edge[rto] (k31) edge[rto] (k32) edge[rto] (k33) edge[rto] (k34);
\draw[mteal,lv2] (k4.south east) edge[rto] (k41) edge[rto] (k42) edge[rto] (k43);
\draw[mteal,lv2] (k42.south east) edge[rto] (k421) edge[rto] (k422) edge[rto] (k423);
\draw[mteal,lv2] (k421.south east) edge[rto] (k4211) edge[rto] (k4212);
\draw[mteal,lv2] (k4212.south east) edge[rto] (k42121);
\draw[mteal,lv2] (k422.south east) edge[rto] (k4221) edge[rto] (k4222);
\draw[mteal,lv2] (k423.south east) edge[rto] (k4231) edge[rto] (k4232);
\draw[mteal,lv2] (k43.south east) edge[rto] (k431) edge[rto] (k432) edge[rto] (k433) edge[rto] (k434);
\draw[mteal,lv2] (k433.south east) edge[rto] (k4331) edge[rto] (k4332);
\draw[mteal,lv2] (k434.south east) edge[rto] (k4341) edge[rto] (k4342);
\end{scope}

\draw[myellow,line width=0.6pt] ([xshift=-2.8pt]b452.west) circle (1.8pt);
\fill[topbar] (0,0) rectangle (945,22);
\end{tikzpicture}
\end{document}
